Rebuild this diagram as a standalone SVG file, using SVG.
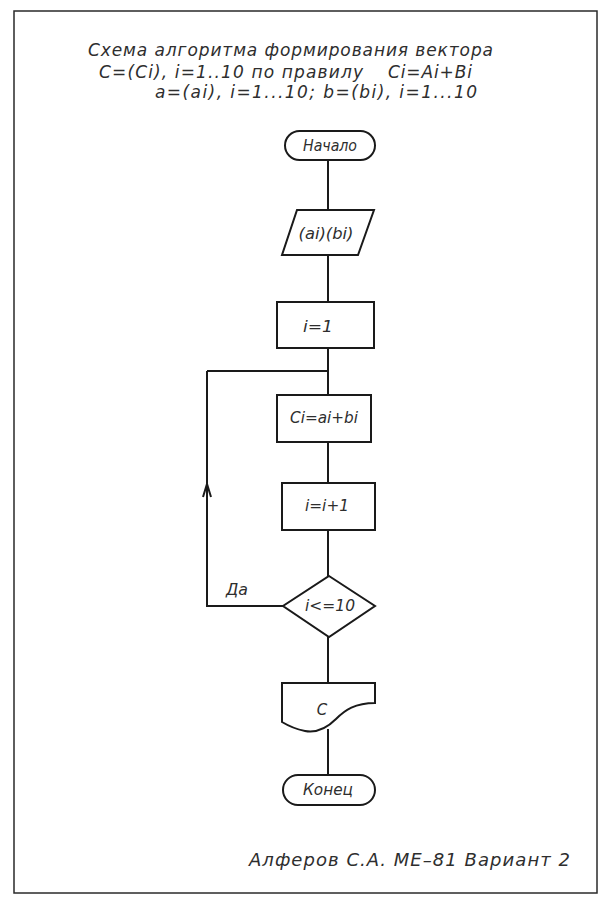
<svg xmlns="http://www.w3.org/2000/svg" width="606" height="907" viewBox="0 0 606 907">
<style>
.s{fill:none;stroke:#1a1a1a;stroke-width:2;stroke-linejoin:miter}
.n{fill:#fff;stroke:#1a1a1a;stroke-width:2}
.t{font-family:"DejaVu Sans","Liberation Sans",sans-serif;font-style:italic;font-weight:normal;fill:#2e2e2e}
.c{text-anchor:middle;font-size:15px}
.h{font-size:17px}
</style>
<rect x="0" y="0" width="606" height="907" fill="#fff"/>
<rect x="14" y="11" width="583" height="882" fill="none" stroke="#2a2a2a" stroke-width="1.5"/>
<g id="title">
<text class="t h" x="88" y="56" textLength="405" lengthAdjust="spacing">Схема алгоритма формирования вектора</text>
<text class="t h" x="99" y="78" textLength="264" lengthAdjust="spacing">C=(Ci), i=1..10 по правилу</text>
<text class="t h" x="388" y="78" textLength="84" lengthAdjust="spacing">Ci=Ai+Bi</text>
<text class="t h" x="155" y="98" textLength="322" lengthAdjust="spacing">a=(ai), i=1...10; b=(bi), i=1...10</text>
</g>
<g id="connectors">
<path class="s" d="M328,160V210M328,255V302M328,348V395M207,371H328M328,442V483M328,530V576M328,637V683M328,729V775"/>
<path class="s" d="M283,606H207V371"/>
<path class="s" d="M203,497L207,484L211,497"/>
<text class="t" x="226" y="595" font-size="15" textLength="22" lengthAdjust="spacingAndGlyphs">Да</text>
</g>
<g id="start">
<rect class="n" x="285" y="131" width="90" height="29" rx="14.5"/>
<text class="t c" x="330" y="151" textLength="54" lengthAdjust="spacingAndGlyphs">Начало</text>
</g>
<g id="input">
<polygon class="n" points="297,210 374,210 358,255 282,255"/>
<text class="t c" x="326" y="239" textLength="55" lengthAdjust="spacingAndGlyphs">(ai)(bi)</text>
</g>
<g id="init">
<rect class="n" x="277" y="302" width="97" height="46"/>
<text class="t c" x="318" y="332" textLength="30" lengthAdjust="spacingAndGlyphs">i=1</text>
</g>
<g id="calc">
<rect class="n" x="277" y="395" width="94" height="47"/>
<text class="t c" x="324" y="423" textLength="68" lengthAdjust="spacingAndGlyphs">Ci=ai+bi</text>
</g>
<g id="inc">
<rect class="n" x="282" y="483" width="93" height="47"/>
<text class="t c" x="327" y="511" textLength="44" lengthAdjust="spacingAndGlyphs">i=i+1</text>
</g>
<g id="cond">
<polygon class="n" points="329,576 375,606 329,637 283,606"/>
<text class="t c" x="330" y="611" textLength="50" lengthAdjust="spacingAndGlyphs">i&lt;=10</text>
</g>
<g id="output">
<path class="n" d="M282,683H375V703C355,703 345,710 336,719C326,729 316,733 305,731C295,729 287,725 282,722Z"/>
<text class="t c" x="322" y="715">C</text>
</g>
<g id="end">
<rect class="n" x="283" y="775" width="92" height="30" rx="15"/>
<text class="t c" x="328" y="795" textLength="50" lengthAdjust="spacingAndGlyphs">Конец</text>
</g>
<g id="author">
<text class="t" x="249" y="866" font-size="18" textLength="321" lengthAdjust="spacing">Алферов С.А. МЕ–81 Вариант 2</text>
</g>
</svg>
